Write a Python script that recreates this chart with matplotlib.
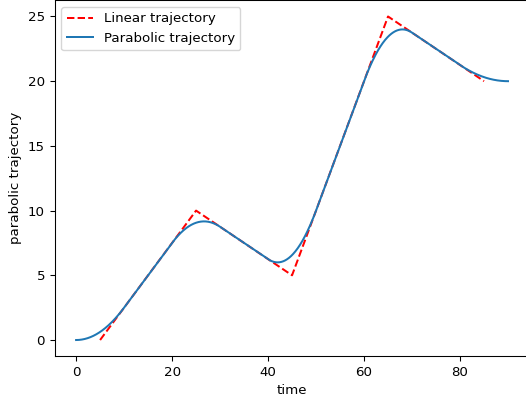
import numpy as np
import matplotlib
matplotlib.use("Agg")
import matplotlib.pyplot as plt

# Via points of the linear trajectory
via_t = [5, 25, 45, 65, 85]
via_q = [0, 10, 5, 25, 20]
blend = 10  # blend duration around each via point
t_start, t_end = 0, 90

def lspb(ts, qs, tb, t):
    # linear segments with parabolic blends through via points
    ts = np.asarray(ts, float); qs = np.asarray(qs, float)
    v = np.concatenate([[0.0], np.diff(qs) / np.diff(ts), [0.0]])
    out = np.empty_like(t)
    for k, tt in enumerate(t):
        done = False
        for i in range(len(ts)):
            a0 = ts[i] - tb / 2
            if a0 <= tt <= ts[i] + tb / 2:
                vin, vout = v[i], v[i + 1]
                acc = (vout - vin) / tb
                q0 = qs[i] - vin * tb / 2
                dt = tt - a0
                out[k] = q0 + vin * dt + 0.5 * acc * dt ** 2
                done = True
                break
        if not done:
            j = np.searchsorted(ts, tt) - 1
            j = min(max(j, 0), len(ts) - 2)
            out[k] = qs[j] + v[j + 1] * (tt - ts[j])
    return out

t = np.linspace(t_start, t_end, 901)
q = lspb(via_t, via_q, blend, t)

s = 0.96
plt.rcParams.update({
    'font.size': 10 * s,
    'lines.linewidth': 1.5 * s,
    'axes.linewidth': 0.8 * s,
    'xtick.major.size': 3.5 * s,
    'ytick.major.size': 3.5 * s,
    'xtick.major.width': 0.8 * s,
    'ytick.major.width': 0.8 * s,
})

W, H = 526, 403
fig = plt.figure(figsize=(W / 100, H / 100), dpi=100)
ax = fig.add_axes([54.5 / W, (H - 356.2) / H, (529.6 - 54.5) / W, (356.2 - 0.3) / H])
ax.plot(via_t, via_q, 'r--', label='Linear trajectory')
ax.plot(t, q, color='#1f77b4', label='Parabolic trajectory')
ax.set_xlabel('time')
ax.set_ylabel('parabolic trajectory')
ax.legend(loc='upper left')
fig.savefig('out.png', dpi=100)
